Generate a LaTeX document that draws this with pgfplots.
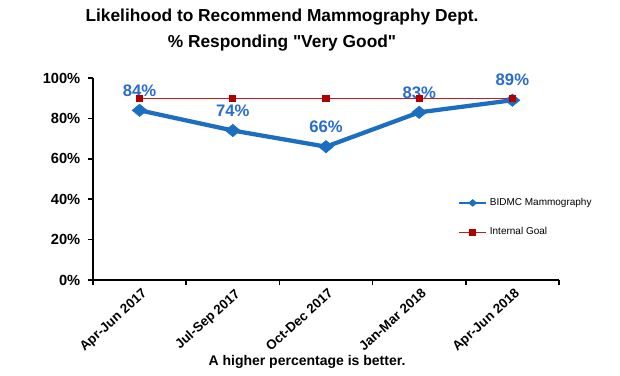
\documentclass[border=0pt]{standalone}
\usepackage{pgfplots}
\pgfplotsset{compat=1.18}
\usepackage{fontspec}
\setmainfont{Liberation Sans}
\definecolor{bblue}{RGB}{28,110,192}
\definecolor{lblue}{RGB}{40,108,208}
\definecolor{gred}{RGB}{205,25,25}
\definecolor{mred}{RGB}{175,0,0}
\begin{document}
\begin{tikzpicture}
\path[use as bounding box] (0pt,0pt) rectangle (465pt,281.25pt);
\begin{axis}[
  at={(69.75pt,71.25pt)}, anchor=south west,
  scale only axis, width=349.5pt, height=151.5pt,
  xmin=-0.5, xmax=4.5, ymin=0, ymax=100,
  clip=false,
  axis lines=left,
  axis line style={-, line width=1.6pt, black},
  tick align=outside,
  major tick length=4pt,
  tick style={line width=1.2pt, black},
  xtick={-0.5,0.5,...,4.5},
  xticklabels={},
  extra x ticks={0,1,2,3,4},
  extra x tick labels={Apr-Jun 2017,Jul-Sep 2017,Oct-Dec 2017,Jan-Mar 2018,Apr-Jun 2018},
  extra x tick style={major tick length=0pt, tick label style={rotate=42, anchor=north east, inner sep=1pt, yshift=-4pt, xshift=-2pt, font=\bfseries\fontsize{10}{12}\selectfont}},
  ytick={0,20,...,100},
  yticklabel={\pgfmathprintnumber{\tick}\%},
  yticklabel style={font=\bfseries\fontsize{11}{12}\selectfont, xshift=-2pt},
  /pgf/number format/assume math mode=true,
  legend style={at={(0.783,0.309)}, anchor=west, draw=none, fill=none,
    font=\fontsize{7.5}{9}\selectfont, row sep=11pt, inner sep=0pt,
    legend cell align=left},
  legend image code/.code={\draw[#1] (0pt,0pt) -- (20pt,0pt); \draw[#1, mark repeat=1] plot coordinates {(10pt,0pt)};},
]
\addplot[color=bblue, line width=3.2pt, mark=diamond*, mark size=4.6pt,
  mark options={xscale=1.6, line width=0.5pt, fill=bblue},
  legend image post style={line width=1.8pt, mark size=2.5pt},
  nodes near coords={\pgfmathprintnumber{\pgfplotspointmeta}\%},
  every node near coord/.append style={font=\bfseries\fontsize{12.5}{14}\selectfont, text=lblue, anchor=south, yshift=7pt},
  ] coordinates {(0,84) (1,74) (2,66) (3,83) (4,89)};
\addlegendentry{BIDMC Mammography}
\addplot[color=gred, line width=1pt, mark=square*, mark size=2.2pt,
  mark options={fill=mred, draw=mred}]
  coordinates {(0,90) (1,90) (2,90) (3,90) (4,90)};
\addlegendentry{Internal Goal}
\end{axis}
\node[align=center, font=\bfseries\fontsize{13}{19.5}\selectfont] at (211.5pt,258.75pt)
  {Likelihood to Recommend Mammography Dept.\\\% Responding \textquotedbl Very Good\textquotedbl};
\node[font=\bfseries\fontsize{10.5}{12}\selectfont] at (230.25pt,9.75pt) {A higher percentage is better.};
\end{tikzpicture}
\end{document}
